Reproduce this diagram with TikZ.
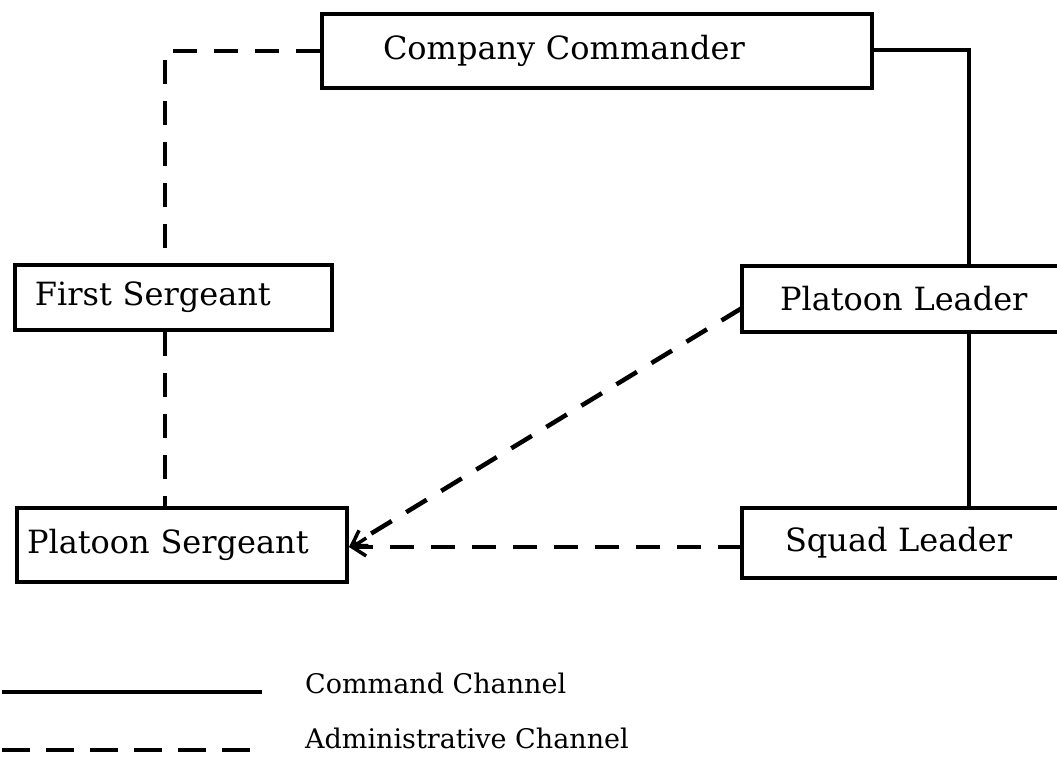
\documentclass[tikz,border=0pt]{standalone}
\usepackage{fontspec}
\setmainfont{DejaVu Serif}
\usetikzlibrary{arrows.meta}
\begin{document}
\begin{tikzpicture}[x=1pt,y=-1pt,
  box/.style={draw, line width=4.5pt, rectangle, inner sep=0pt, align=left,
    font=\fontsize{32}{38}\selectfont},
  cmd/.style={line width=4.5pt},
  adm/.style={line width=4.5pt, dash pattern=on 24pt off 17pt},
  tip/.style={-{Straight Barb[length=14pt,width=18pt,line width=3.5pt]}},
  lbl/.style={anchor=west, inner sep=0pt, font=\fontsize{27}{32}\selectfont}
]
\useasboundingbox[fill=white] (0,0) rectangle (1057,757);
% boxes
\node[box, text width=550pt, minimum height=74pt] (cc) at (597,51) {\hspace*{61pt}Company Commander};
\node[box, text width=317pt, minimum height=65pt] (fs) at (173.5,297.5) {\hspace*{20pt}First Sergeant};
\node[box, text width=340pt, minimum height=66pt] (pl) at (912,299) {\hspace*{38pt}Platoon Leader};
\node[box, text width=330pt, minimum height=74pt] (ps) at (182,545) {\hspace*{10pt}Platoon Sergeant};
\node[box, text width=340pt, minimum height=70pt] (sl) at (912,543) {\hspace*{43pt}Squad Leader};
% corner coordinates
\coordinate (c1) at (165,51);
\coordinate (c2) at (969,50);
\coordinate (plw) at (742,308);
\coordinate (slw) at (742,547);
\coordinate (pse) at (349,547);
% command channel
\draw[cmd] (cc.east |- c2) -- (c2) -- (c2 |- pl.north);
\draw[cmd] (c2 |- pl.south) -- (c2 |- sl.north);
% administrative channel
\draw[adm] (cc.west |- c1) -- (c1) -- (c1 |- fs.north);
\draw[adm] (c1 |- fs.south) -- (c1 |- ps.north);
\draw[adm, tip] (slw) -- (pse);
\draw[adm, tip] (plw) -- (pse);
% legend
\coordinate (l1a) at (2,692);
\coordinate (l1b) at (262,692);
\coordinate (l2a) at (2,750);
\coordinate (l2b) at (262,750);
\draw[cmd] (l1a) -- (l1b);
\draw[line width=4.5pt, dash pattern=on 28pt off 16pt] (l2a) -- (l2b);
\node[lbl] (lc) at (305,683) {Command Channel};
\node[lbl] (la) at (305,738) {Administrative Channel};
\end{tikzpicture}
\end{document}
